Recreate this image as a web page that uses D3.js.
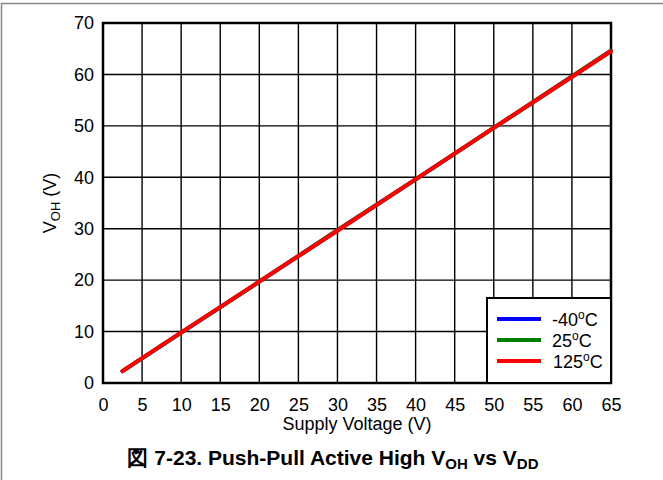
<!DOCTYPE html>
<meta charset="utf-8">
<style>
  body { margin: 0; background: #fff; }
  text { font-family: Arial, "Liberation Sans", sans-serif; fill: #000; }
</style>
<body>
<script src="https://d3js.org/d3.v7.min.js"></script>
<script>

  let width = 663,
    height = 480;

  // values
  let vdd = [2.5, 10, 20, 30, 40, 50, 60, 65];
  let vohCold = [2.3, 9.8, 19.7, 29.7, 39.6, 49.6, 59.6, 64.6];
  let vohRoom = [2.3, 9.8, 19.7, 29.7, 39.6, 49.6, 59.6, 64.6];
  let vohHot = [2.3, 9.8, 19.7, 29.6, 39.6, 49.6, 59.5, 64.5];

  let seriesNames = ['-40', '25', '125'];
  let seriesColors = ['#0000ff', '#007f00', '#ff0000'];
  let xTicks = d3.range(0, 66, 5);
  let yTicks = d3.range(0, 71, 10);

  let series = [vohCold, vohRoom, vohHot];

  let margin = {left: 103, top: 23, right: 52, bottom: 97};
  let x = d3.scaleLinear().domain([0, 65]).range([margin.left, width - margin.right]);
  let y = d3.scaleLinear().domain([0, 70]).range([height - margin.bottom, margin.top]);

  let svg = d3.select("body").append("svg")
    .attr("width", width)
    .attr("height", height);

  // figure frame (left and top edges visible)
  svg.append("path")
    .attr("d", "M1.5," + height + "V3.5H" + width)
    .attr("fill", "none")
    .attr("stroke", "#888")
    .attr("stroke-width", 1.5);

  // grid
  svg.append("g").selectAll("line")
    .data(xTicks)
    .enter().append("line")
    .attr("x1", d => x(d)).attr("x2", d => x(d))
    .attr("y1", y(0)).attr("y2", y(70))
    .attr("stroke", "#000").attr("stroke-width", 1.4);

  svg.append("g").selectAll("line")
    .data(yTicks)
    .enter().append("line")
    .attr("x1", x(0)).attr("x2", x(65))
    .attr("y1", d => y(d)).attr("y2", d => y(d))
    .attr("stroke", "#000").attr("stroke-width", 1.4);

  // axes (labels only)
  let xAxis = svg.append("g")
    .attr("transform", "translate(0," + y(0) + ")")
    .call(d3.axisBottom(x).tickValues(xTicks).tickSize(0).tickPadding(15));
  let yAxis = svg.append("g")
    .attr("transform", "translate(" + x(0) + ",0)")
    .call(d3.axisLeft(y).tickValues(yTicks).tickSize(0).tickPadding(9));
  [xAxis, yAxis].forEach(function(a) {
    a.select(".domain").remove();
    a.selectAll("text").style("font-size", "18px").attr("fill", "#000");
  });

  // plot border
  svg.append("rect")
    .attr("x", x(0)).attr("y", y(70))
    .attr("width", x(65) - x(0)).attr("height", y(0) - y(70))
    .attr("fill", "none")
    .attr("stroke", "#000")
    .attr("stroke-width", 2.5);

  // curves
  let line = d3.line()
    .x((d, i) => x(vdd[i]))
    .y(d => y(d));

  svg.append("g").selectAll("path")
    .data(series)
    .enter().append("path")
    .attr("d", line)
    .attr("fill", "none")
    .attr("stroke", (d, i) => seriesColors[i])
    .attr("stroke-width", 4)
    .attr("stroke-linecap", "round");

  // legend
  let lg = svg.append("g").attr("transform", "translate(487,298)");
  lg.append("rect")
    .attr("width", x(65) - 487)
    .attr("height", y(0) - 298)
    .attr("fill", "#fff")
    .attr("stroke", "#000")
    .attr("stroke-width", 2);
  seriesNames.forEach(function(name, i) {
    let yy = 21 + i * 21;
    lg.append("line")
      .attr("x1", 10).attr("x2", 54)
      .attr("y1", yy).attr("y2", yy)
      .attr("stroke", seriesColors[i])
      .attr("stroke-width", 4);
    let t = lg.append("text")
      .attr("x", i === 2 ? 66 : 65)
      .attr("y", yy + 7)
      .style("font-size", "18px");
    t.append("tspan").text(name);
    t.append("tspan").attr("dy", -7).style("font-size", "12px").text("o");
    t.append("tspan").attr("dy", 7).text("C");
  });

  // axis titles
  svg.append("text")
    .attr("x", (x(0) + x(65)) / 2)
    .attr("y", 430)
    .attr("text-anchor", "middle")
    .style("font-size", "18px")
    .text("Supply Voltage (V)");

  let yt = svg.append("text")
    .attr("transform", "translate(56," + (y(0) + y(70)) / 2 + ") rotate(-90)")
    .attr("text-anchor", "middle")
    .style("font-size", "18px");
  yt.append("tspan").text("V");
  yt.append("tspan").attr("dy", 4).style("font-size", "13px").text("OH");
  yt.append("tspan").attr("dy", -4).text(" (V)");

  // caption
  let cap = svg.append("text")
    .attr("x", 333)
    .attr("y", 465)
    .attr("text-anchor", "middle")
    .style("font-size", "21px")
    .style("font-weight", "bold");
  cap.append("tspan").text("図 7-23. Push-Pull Active High V");
  cap.append("tspan").attr("dy", 4).style("font-size", "15px").text("OH");
  cap.append("tspan").attr("dy", -4).text(" vs V");
  cap.append("tspan").attr("dy", 4).style("font-size", "15px").text("DD");

</script>
